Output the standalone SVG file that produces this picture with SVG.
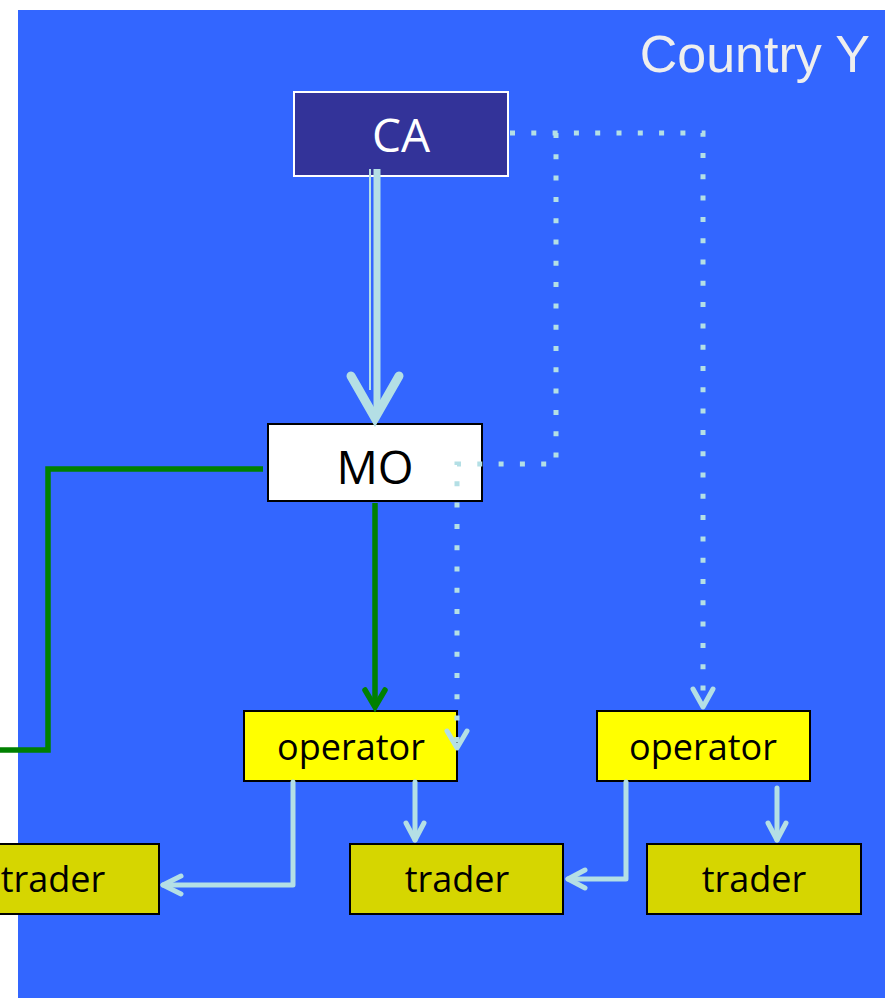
<svg xmlns="http://www.w3.org/2000/svg" width="885" height="998" viewBox="0 0 885 998">
<defs>
<style>
.lbl{font-family:"Open Sans","Liberation Sans",sans-serif;text-anchor:middle}
.dot{fill:none;stroke:#B4DFE5;stroke-width:5;stroke-dasharray:5 16.3}
.cy{fill:none;stroke:#B4DFE5;stroke-width:5;stroke-linecap:round;stroke-linejoin:round}
.gr{fill:none;stroke:#008000;stroke-width:5.5}
.op{fill:#FFFF00;stroke:#000;stroke-width:2}
.tr{fill:#D6D600;stroke:#000;stroke-width:2}
</style>
</defs>
<rect x="0" y="0" width="885" height="998" fill="#fff"/>
<rect x="18" y="10" width="867" height="988" fill="#3366FF"/>
<text x="870" y="72" font-family="Liberation Sans, Arial, sans-serif" font-size="52" fill="#EEEEEE" text-anchor="end">Country Y</text>

<g id="CA">
<rect x="294" y="92" width="214" height="84" fill="#333399" stroke="#fff" stroke-width="2"/>
<text class="lbl" x="401" y="152" font-size="46" fill="#fff">CA</text>
</g>
<g id="MO">
<rect x="268" y="424" width="214" height="77" fill="#fff" stroke="#000" stroke-width="2"/>
<text class="lbl" x="375" y="484" font-size="46" fill="#000">MO</text>
</g>
<g id="operator1">
<rect class="op" x="244" y="711" width="213" height="70"/>
<text class="lbl" x="351" y="760" font-size="36">operator</text>
</g>
<g id="operator2">
<rect class="op" x="597" y="711" width="213" height="70"/>
<text class="lbl" x="703" y="760" font-size="36">operator</text>
</g>
<g id="trader1">
<rect class="tr" x="-60" y="844" width="219" height="70"/>
<text class="lbl" x="53" y="892" font-size="36">trader</text>
</g>
<g id="trader2">
<rect class="tr" x="350" y="844" width="213" height="70"/>
<text class="lbl" x="457" y="892" font-size="36">trader</text>
</g>
<g id="trader3">
<rect class="tr" x="647" y="844" width="214" height="70"/>
<text class="lbl" x="754" y="892" font-size="36">trader</text>
</g>

<g id="connectors">
<!-- CA to MO double arrow -->
<line x1="370" y1="169" x2="370" y2="390" stroke="#B4DFE5" stroke-width="2"/>
<line x1="377" y1="169" x2="377" y2="410" stroke="#B4DFE5" stroke-width="7"/>
<path d="M351,376 L375,418 L399,376" fill="none" stroke="#B4DFE5" stroke-width="9" stroke-linecap="round" stroke-linejoin="miter"/>
<!-- dotted -->
<path class="dot" d="M510,133 H703 V700"/>
<path class="dot" d="M556,133 V464 H457 V745"/>
<path class="cy" d="M693,689 L703,707 L713,689" stroke-width="4"/>
<path class="cy" d="M447,731 L457,748 L467,731" stroke-width="4"/>
<!-- green -->
<path class="gr" d="M263,469 H48 V750 H0"/>
<path class="gr" d="M375,503 V705"/>
<path class="gr" d="M365,690 L375,707 L385,690" stroke-linecap="round"/>
<!-- light arrows -->
<path class="cy" d="M293,782 V885 H163"/>
<path class="cy" d="M181,876 L163,885 L181,894"/>
<path class="cy" d="M415,782 V840"/>
<path class="cy" d="M406,823 L415,840 L424,823"/>
<path class="cy" d="M626,782 V879 H568"/>
<path class="cy" d="M585,870 L568,879 L585,888"/>
<path class="cy" d="M777,788 V840"/>
<path class="cy" d="M768,823 L777,840 L786,823"/>
</g>
</svg>
